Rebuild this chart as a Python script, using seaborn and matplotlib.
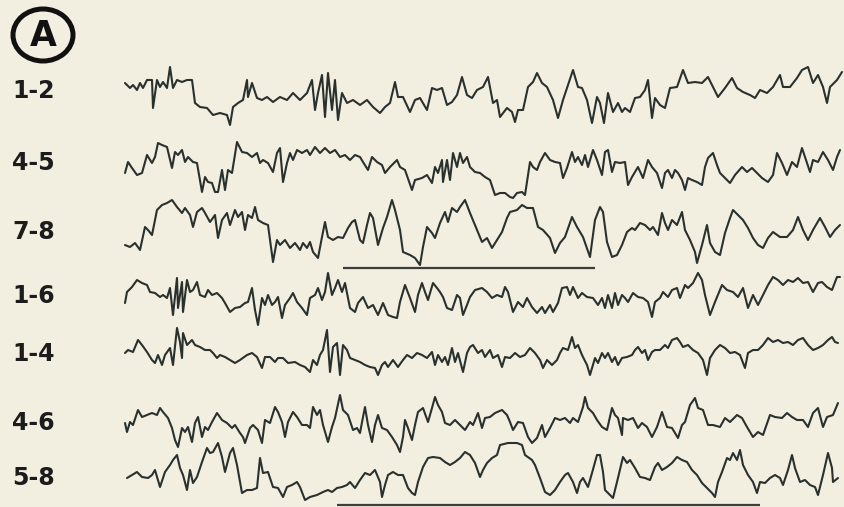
import matplotlib
matplotlib.use("Agg")
import matplotlib.pyplot as plt
from matplotlib.patches import Ellipse
import seaborn as sns
import pandas as pd

# Bipolar EEG derivations, sample index (t) and amplitude (v, arbitrary units, positive up)
channels = ["1-2", "4-5", "7-8", "1-6", "1-4", "4-6", "5-8"]

t_12 = [0, 5, 8, 12, 15, 18, 22, 27, 28, 32, 35, 38, 42, 45, 48, 52, 57, 62, 67, 70, 75, 82, 88, 95, 102, 105, 108, 113, 118, 122, 123, 127, 132, 137, 142, 148, 155, 162, 168, 175, 182, 187, 190, 193, 197, 200, 203, 207, 210, 213, 217, 222, 228, 235, 242, 248, 255, 260, 265, 270, 273, 278, 285, 290, 295, 302, 307, 312, 317, 322, 327, 332, 337, 342, 347, 352, 358, 363, 368, 372, 375, 382, 387, 390, 393, 398, 403, 408, 412, 417, 422, 428, 433, 438, 443, 448, 453, 457, 462, 467, 472, 475, 479, 483, 488, 493, 497, 500, 505, 510, 515, 520, 523, 527, 530, 535, 540, 545, 552, 558, 563, 570, 577, 583, 588, 593, 600, 607, 612, 618, 625, 630, 635, 642, 648, 655, 658, 665, 672, 677, 683, 688, 693, 698, 702, 705, 712, 717]
v_12 = [14, 9, 12, 7, 14, 9, 17, 17, -11, 17, 10, 15, 9, 30, 9, 17, 15, 17, 17, -6, -10, -11, -18, -16, -18, -28, -10, -6, -3, 17, 0, 14, -1, -3, 0, -5, 0, -3, 4, -3, 4, 17, -13, 4, 22, -20, 24, -13, 17, -23, 4, -6, -3, -8, -3, -10, -16, -10, -6, 15, 0, 0, -15, -3, -1, -13, 9, 7, 9, -8, -5, 2, 20, 2, -1, 7, 10, 20, -6, -3, -20, -11, -15, -25, -13, -13, 10, 15, 24, 14, 10, -3, -21, -3, 12, 27, 10, 9, -3, -26, 0, -6, -26, 4, -15, -6, -15, -11, -15, -1, 0, 7, 17, -21, -1, -8, -11, 9, 10, 27, 14, 15, 14, 20, 10, 0, 9, 19, 9, 5, 2, -1, 7, 4, 10, 22, 10, 10, 19, 27, 30, 14, 22, 10, -6, 10, 17, 25]

t_45 = [0, 3, 7, 12, 17, 22, 27, 30, 33, 37, 42, 47, 50, 53, 57, 60, 63, 68, 72, 77, 80, 83, 87, 90, 93, 97, 100, 103, 107, 112, 117, 122, 127, 132, 135, 138, 143, 148, 152, 155, 158, 162, 165, 168, 172, 177, 182, 185, 190, 195, 200, 205, 210, 215, 220, 225, 230, 235, 238, 243, 247, 252, 257, 260, 265, 272, 275, 280, 287, 290, 297, 302, 307, 310, 313, 317, 318, 322, 325, 328, 332, 335, 338, 342, 345, 350, 355, 360, 365, 370, 375, 380, 385, 388, 392, 397, 400, 405, 408, 412, 415, 420, 425, 430, 435, 438, 442, 447, 450, 453, 457, 460, 463, 468, 472, 477, 480, 483, 487, 490, 495, 500, 503, 507, 510, 513, 518, 523, 527, 532, 537, 540, 543, 547, 550, 553, 557, 560, 563, 567, 572, 577, 580, 583, 588, 592, 595, 600, 605, 610, 617, 622, 627, 632, 637, 643, 648, 652, 657, 662, 667, 672, 677, 682, 685, 688, 693, 698, 703, 708, 712, 715]
v_45 = [-8, 3, -3, -10, -8, 10, 2, 8, 22, 20, 18, -3, 13, 10, 15, 3, 8, 3, 2, -27, -12, -17, -18, -27, -27, -5, -25, -5, -8, 23, 13, 12, 8, 12, 2, 5, 2, -7, 12, 17, -17, 2, 12, 5, 15, 12, 15, 10, 18, 12, 17, 12, 15, 8, 10, 5, 10, 8, 3, -5, 8, 3, 0, -8, -2, 5, -2, -5, -25, -15, -13, -10, -18, -2, -8, 5, -17, 5, -15, 12, -2, 12, 2, 8, -2, -7, -8, -12, -15, -30, -28, -28, -32, -33, -28, -27, -30, 3, -2, -5, 3, 12, 5, 3, 2, -13, -3, 13, 3, 8, 0, 10, -2, 15, 5, -10, 13, 15, -7, 3, 2, 3, -20, -12, -7, -2, -13, 5, -2, -8, -23, -8, -5, -13, -5, -8, -15, -25, -13, -15, -17, -20, -2, 7, 12, 0, -8, -13, -18, -10, -2, -7, -3, -8, -13, -17, -10, 12, 2, -10, 3, -2, 17, 2, -7, 5, 3, 13, 5, -5, 8, 15]

t_78 = [0, 5, 10, 15, 20, 23, 27, 32, 37, 42, 47, 52, 57, 60, 65, 68, 72, 77, 80, 85, 90, 93, 97, 102, 105, 110, 113, 117, 120, 123, 127, 130, 133, 138, 143, 148, 152, 155, 160, 165, 170, 175, 178, 182, 185, 188, 193, 197, 200, 203, 208, 213, 218, 223, 227, 230, 235, 238, 242, 245, 248, 253, 258, 262, 267, 270, 275, 278, 285, 290, 295, 298, 302, 307, 310, 315, 320, 323, 327, 332, 335, 340, 345, 352, 357, 362, 367, 372, 377, 382, 385, 392, 397, 402, 408, 413, 418, 425, 430, 435, 440, 447, 452, 458, 465, 470, 475, 478, 482, 487, 492, 497, 502, 507, 510, 515, 520, 525, 528, 533, 537, 540, 543, 547, 552, 557, 560, 565, 570, 572, 577, 582, 585, 590, 595, 600, 605, 608, 613, 618, 623, 628, 633, 638, 643, 648, 655, 662, 668, 673, 678, 683, 688, 695, 700, 705, 710, 715]
v_78 = [-15, -17, -13, -20, 3, 0, -5, 20, 25, 27, 30, 23, 17, 22, 15, 3, 18, 22, 17, 8, 15, -8, 10, 17, 5, 20, 13, 18, 0, 15, 12, 23, 10, 7, 5, -32, -10, -15, -10, -18, -13, -20, -13, -18, -12, -22, -28, -7, 8, -7, -10, -7, -8, 2, 8, 10, -10, -13, 5, 17, 12, -15, 2, 13, 30, 20, 0, -22, -25, -28, -35, -17, 3, -3, -8, 7, 18, 8, 22, 18, 23, 30, 17, 0, -12, -8, -18, -10, -2, 12, 18, 20, 25, 22, 22, 3, 0, -8, -23, -13, -7, 13, 3, -7, -27, 10, 23, 18, -12, -27, -25, -15, -2, 2, 0, 7, 5, 0, 3, -5, 17, 7, 0, 10, 5, 18, 0, -10, -22, -33, -15, 5, -13, -22, -25, -3, 12, 20, 15, 10, 2, -8, -15, -18, -8, -2, -7, -7, 0, 13, 0, -10, 0, 12, 3, -7, 0, 5]

t_16 = [0, 2, 7, 12, 17, 22, 25, 30, 35, 38, 42, 45, 48, 52, 53, 57, 58, 62, 65, 68, 72, 75, 80, 83, 87, 92, 97, 100, 105, 110, 115, 120, 123, 127, 130, 133, 137, 140, 143, 147, 150, 153, 157, 160, 165, 168, 172, 177, 182, 185, 190, 193, 197, 200, 203, 207, 210, 213, 217, 220, 225, 230, 233, 238, 243, 248, 253, 258, 263, 268, 272, 275, 280, 285, 290, 293, 297, 300, 303, 308, 312, 315, 318, 322, 327, 332, 335, 338, 342, 345, 350, 357, 362, 367, 372, 377, 380, 383, 388, 393, 398, 402, 407, 412, 417, 420, 425, 428, 433, 437, 442, 445, 448, 453, 457, 462, 468, 473, 477, 480, 483, 487, 490, 493, 497, 500, 503, 508, 513, 518, 523, 527, 530, 535, 538, 543, 547, 552, 555, 560, 563, 568, 573, 577, 580, 585, 590, 597, 602, 608, 613, 618, 623, 628, 633, 638, 643, 648, 653, 658, 663, 668, 673, 678, 683, 688, 693, 697, 702, 707, 712, 715]
v_16 = [-6, 5, 10, 17, 14, 12, 5, 4, 0, 2, -1, 9, -18, 19, -11, 15, -15, 17, 5, 7, 15, 2, 0, 7, 2, 4, -1, -6, -15, -11, -10, -6, -5, 9, -13, -28, -1, -8, 2, -8, -5, 0, -21, -8, -1, 4, -5, -11, -18, -1, 2, 9, -3, 5, 24, 2, 9, 17, 5, 14, -11, -15, -6, 0, -11, -8, -18, -6, -18, -20, -21, -5, 12, -1, -15, 2, 14, 5, -3, 14, 9, 5, 0, -11, -13, 2, -1, -18, -8, 0, 7, 9, 5, -1, 2, 0, 10, 5, -15, -5, -10, -1, -10, -16, -10, -16, -8, -15, -6, 9, 10, 2, 10, -1, 4, 0, -1, -8, -1, -11, 2, -11, 4, -8, 2, -1, -5, 4, 0, -1, -5, -20, -5, -1, 5, 0, 7, 9, -1, 12, 9, 14, 24, 17, 2, -18, -5, 12, 7, 5, 0, 9, -11, 2, -8, 2, 12, 20, 17, 12, 17, 15, 19, 14, 15, 5, 14, 15, 10, 7, 20, 20]

t_14 = [0, 3, 8, 13, 17, 22, 27, 30, 33, 37, 40, 45, 48, 52, 55, 57, 58, 62, 67, 70, 75, 80, 85, 88, 92, 95, 100, 105, 110, 115, 122, 127, 132, 137, 140, 145, 150, 153, 158, 163, 170, 175, 180, 185, 188, 192, 195, 198, 202, 205, 208, 212, 215, 218, 222, 225, 230, 235, 240, 245, 250, 253, 257, 260, 263, 268, 273, 278, 282, 287, 292, 297, 302, 307, 310, 313, 317, 320, 323, 327, 330, 333, 338, 342, 345, 348, 353, 357, 360, 365, 368, 373, 377, 380, 385, 390, 395, 400, 405, 410, 415, 418, 422, 427, 432, 435, 438, 443, 447, 450, 453, 457, 462, 465, 470, 473, 477, 480, 483, 487, 490, 493, 497, 502, 507, 510, 513, 517, 520, 523, 527, 530, 535, 540, 543, 547, 552, 555, 558, 563, 568, 573, 578, 582, 585, 590, 595, 600, 605, 610, 615, 620, 623, 628, 633, 638, 643, 648, 653, 658, 663, 668, 673, 678, 683, 688, 693, 698, 703, 707, 710, 713]
v_14 = [2, 5, 3, 15, 10, 3, -5, -8, 0, -10, 0, 7, -10, 27, 13, -3, 22, 10, 15, 10, 8, 5, 5, 2, -3, 0, -2, -5, -8, -5, 0, 2, -2, -13, -2, -2, -7, -3, -3, -8, -7, -10, -12, -17, -5, -10, 0, 5, 25, -17, 8, 12, -20, 10, 5, -3, -5, -7, -10, -12, -13, -20, -10, -7, -12, -5, -12, -5, 0, -3, 2, 0, -3, 3, -10, 0, -7, -2, -10, 7, -7, 2, -17, 2, 8, 10, 2, 5, -2, 5, -3, 0, -12, -2, -3, 2, -2, 0, 7, 2, -5, -13, -5, -10, -5, 2, 7, 5, 18, 7, 10, 0, -10, -20, -3, -8, 2, -3, 2, -7, -2, -10, -3, -2, 0, 5, 8, 2, 5, -5, 3, 5, 5, 10, 7, 15, 17, 13, 8, 10, 5, 2, -5, -20, -3, 5, 10, 7, 2, 3, 0, -13, 2, 5, 5, 10, 17, 13, 15, 12, 13, 10, 15, 17, 10, 5, 7, 10, 15, 18, 13, 12]

t_46 = [0, 2, 5, 8, 13, 17, 22, 27, 32, 35, 38, 43, 47, 50, 53, 57, 60, 63, 67, 70, 73, 77, 80, 83, 87, 92, 97, 102, 107, 110, 115, 118, 120, 125, 128, 133, 137, 140, 145, 150, 153, 157, 160, 163, 168, 172, 177, 182, 185, 188, 192, 195, 198, 203, 207, 210, 215, 218, 223, 228, 232, 235, 238, 240, 243, 247, 250, 253, 257, 262, 267, 272, 275, 278, 280, 283, 287, 290, 293, 298, 303, 307, 310, 313, 317, 320, 325, 330, 335, 340, 345, 348, 353, 357, 360, 365, 370, 377, 382, 385, 388, 393, 398, 403, 407, 412, 417, 420, 425, 430, 435, 440, 445, 448, 453, 458, 460, 463, 468, 472, 477, 482, 487, 490, 493, 497, 498, 503, 508, 513, 517, 522, 527, 532, 537, 542, 547, 553, 557, 560, 565, 570, 573, 578, 583, 588, 595, 600, 605, 612, 617, 622, 628, 633, 638, 645, 650, 657, 662, 667, 672, 678, 683, 688, 693, 698, 702, 708, 713]
v_46 = [-1, -10, 0, -3, 12, 5, 7, 9, 7, 14, 10, 4, -6, -18, -25, -6, -10, -5, -20, -1, 5, -15, -5, -8, 0, 9, 2, -1, -6, -3, -11, -15, -21, -6, -3, -8, -21, 2, -1, 15, 10, 0, -15, 0, 10, 5, -3, -3, -6, 15, 7, 12, -3, -20, -5, 4, 27, 12, 7, -8, -6, -11, 5, 15, -3, -20, -3, 7, -6, -8, -15, -23, -30, -15, 2, -6, -18, -3, 10, 14, 0, 14, 25, 17, 10, -1, -3, 2, -3, -8, 0, -3, 9, -6, 4, 5, 9, 12, 7, 0, -8, 0, -1, -15, -21, -16, -3, -15, -6, 4, 2, 4, -1, 4, 0, 15, 25, 14, 9, 2, -5, -8, 14, 7, 4, -13, 4, 2, 4, -6, -1, -5, -15, -5, 10, -5, -6, -16, -3, 0, 17, 24, 14, 12, -3, -3, -5, 4, 0, 7, 4, -5, -15, -10, -13, 7, 5, 4, 9, 5, 2, 2, -5, 9, 14, -5, 5, 7, 19]

t_58 = [2, 7, 12, 17, 23, 27, 30, 35, 40, 45, 48, 52, 55, 58, 62, 65, 68, 72, 77, 82, 85, 88, 93, 97, 100, 105, 108, 112, 117, 122, 127, 132, 135, 138, 143, 148, 153, 158, 162, 167, 172, 175, 180, 185, 192, 198, 203, 207, 212, 217, 222, 225, 230, 235, 240, 245, 250, 255, 257, 260, 263, 268, 273, 278, 283, 287, 290, 293, 298, 303, 308, 315, 320, 325, 330, 335, 340, 345, 350, 355, 358, 362, 367, 372, 375, 383, 392, 397, 400, 407, 410, 415, 420, 425, 430, 435, 440, 443, 448, 452, 455, 458, 463, 467, 472, 475, 478, 480, 485, 488, 492, 498, 502, 505, 510, 515, 520, 525, 530, 533, 537, 542, 547, 552, 557, 562, 567, 572, 577, 582, 587, 590, 593, 597, 602, 605, 608, 612, 615, 618, 623, 628, 632, 635, 640, 645, 650, 655, 658, 663, 667, 670, 675, 680, 685, 690, 693, 698, 703, 707, 708, 713]
v_58 = [-3, 0, 3, -2, -3, 0, 5, -12, 3, 10, 15, 20, 7, 0, -15, 5, -8, -2, 13, 27, 22, 23, 32, 18, 3, 22, 27, 10, -18, -15, -15, -13, 17, 2, 3, -12, -13, -22, -12, -10, -7, -12, -25, -22, -20, -17, -15, -17, -13, -12, -10, -7, -13, -5, 2, 0, 5, -7, -22, -10, 0, 3, 0, 0, -13, -18, -20, -7, 8, 17, 18, 17, 13, 10, 13, 17, 23, 20, 12, -2, 5, 12, 17, 20, 30, 32, 32, 30, 20, 15, 10, -3, -17, -20, -15, -7, 0, 2, -7, -18, -7, -3, -12, 2, 20, 20, 3, -15, -20, -23, -7, 18, 12, 15, 7, -2, -3, -5, 8, 12, 5, 8, 12, 18, 15, 13, 5, 0, -8, -13, -18, -22, -7, 3, 17, 15, 22, 15, 25, 10, 0, -7, -18, -7, -8, -3, 0, -3, -10, 5, 20, 7, -7, -5, -10, -12, -20, 0, 22, 7, -7, -3]

times = [t_12, t_45, t_78, t_16, t_14, t_46, t_58]
values = [v_12, v_45, v_78, v_16, v_14, v_46, v_58]

# Marked epochs (start, end sample) under 7-8 and 5-8
epoch_78 = [218, 470]
epoch_58 = [212, 635]

# Vertical baseline of each channel in the montage (pixel rows)
baselines = [97, 165, 230, 297, 355, 422, 475]
label_rows = [91, 163, 232, 296, 354, 423, 478]

bg = "#f3efe0"
ink = "#29312f"

frames = []
for name, t, v, base in zip(channels, times, values, baselines):
    frames.append(pd.DataFrame({"t": t, "y": [base - a for a in v], "channel": name}))
df = pd.concat(frames, ignore_index=True)

sns.set_style("white")
plt.rcParams["font.family"] = ["DejaVu Sans"]

fig = plt.figure(figsize=(8.44, 5.07), dpi=100, facecolor=bg)
ax = fig.add_axes([0, 0, 1, 1])
ax.set_facecolor(bg)

for name in channels:
    sns.lineplot(data=df[df["channel"] == name], x="t", y="y", ax=ax,
                 color=ink, linewidth=1.5, estimator=None, sort=False, legend=False)

x0 = 125
ax.set_xlim(-x0, 844 - x0)
ax.set_ylim(507, 0)
ax.axis("off")

ax.hlines(268, epoch_78[0], epoch_78[1], color="#3a3f3e", linewidth=1.6)
ax.hlines(505, epoch_58[0], epoch_58[1], color="#3a3f3e", linewidth=1.6)

for name, row in zip(channels, label_rows):
    ax.text(12 - x0, row, name, fontsize=17, fontweight="bold", color="#1c1c1c",
            ha="left", va="center")

# Panel letter in a ring
ax.add_patch(Ellipse((43 - x0, 35), 60, 52, fill=False, edgecolor="#111111", linewidth=3.6))
ax.text(43 - x0, 36, "A", fontsize=25, fontweight="bold", color="#111111",
        ha="center", va="center")

fig.savefig("out.png", dpi=100, facecolor=bg)
